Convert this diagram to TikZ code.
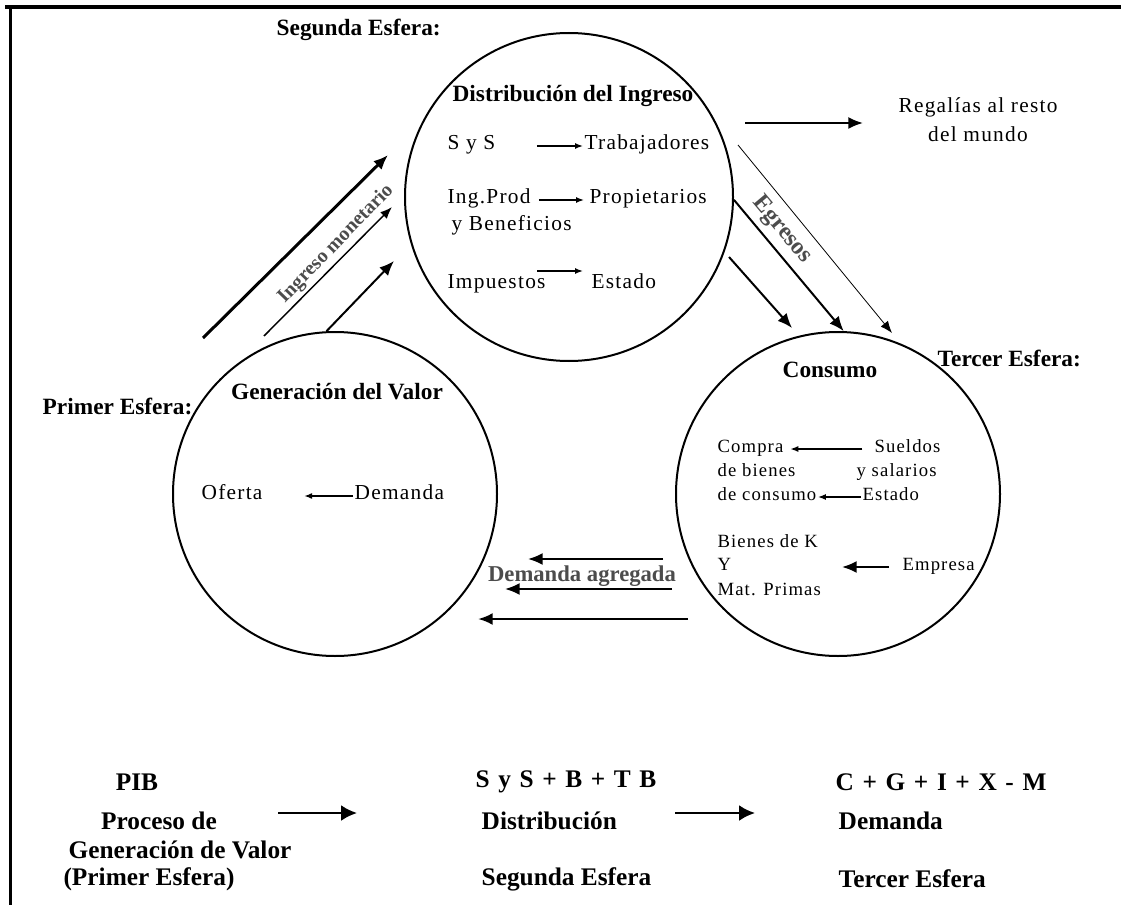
\documentclass[tikz,border=0pt]{standalone}
\usepackage{fontspec}
\setmainfont{Liberation Serif}
\newfontfamily\spaced[LetterSpace=6]{Liberation Serif}
\newfontfamily\wide[LetterSpace=9]{Liberation Serif}
\usetikzlibrary{arrows.meta,shapes}

\tikzset{
  sphere/.style={circle,draw,line width=1.5pt,inner sep=0pt},
  title/.style={font=\fontsize{17.5}{19}\selectfont\bfseries},
  body/.style={font=\spaced\fontsize{16}{22}\selectfont,inner sep=1pt,
    text height=1.5ex,text depth=.3ex},
  small/.style={font=\spaced\fontsize{14}{16}\selectfont,inner sep=1pt,
    text height=1.5ex,text depth=.3ex},
  flow/.style={font=\fontsize{15}{17}\selectfont\bfseries,text=black!70},
  foot/.style={font=\fontsize{19}{21}\selectfont\bfseries},
  formula/.style={font=\wide\fontsize{19}{21}\selectfont\bfseries},
  heavy/.style={->,line width=2.25pt},
  mid/.style={->,line width=1.5pt},
  fine/.style={->,line width=.6pt,>={Latex[length=9pt,width=7pt]}},
  inner/.style={->,line width=1.1pt,>={Latex[length=6pt,width=4.5pt]}},
  sumarrow/.style={->,line width=1.8pt,>={Latex[length=12pt,width=12pt]}},
}

\begin{document}
\begin{tikzpicture}[x=0.75pt,y=-0.75pt,>={Latex[length=11pt,width=9pt]}]
  \useasboundingbox (0,0) rectangle (1121,913);

  % frame
  \draw[line width=3pt] (5,7) -- (1121,7);
  \draw[line width=2.25pt] (10,7) -- (10,905);

  % the three spheres
  \node[sphere,minimum size=246pt] (dist) at (569,197) {};
  \node[sphere,minimum size=243pt] (gen) at (335,494) {};
  \node[sphere,minimum size=243pt] (cons) at (838,494) {};

  \node[title] (distt) at (573,96) {Distribución del Ingreso};
  \node[title,anchor=west] (seg) at (272,30) {Segunda Esfera:};
  \node[title] (gent) at (337,392) {Generación del Valor};
  \node[title,anchor=west] (prim) at (38,406) {Primer Esfera:};
  \node[title] (const) at (830,370) {Consumo};
  \node[title,anchor=west] (terc) at (933,358) {Tercer Esfera:};

  % second sphere
  \node[body,anchor=west] (sys) at (446,146) {S y S};
  \node[body,anchor=west] (trab) at (583,146) {Trabajadores};
  \node[body,anchor=west] (ing) at (446,200) {Ing.Prod};
  \node[body,anchor=west] (prop) at (588,200) {Propietarios};
  \node[body,anchor=west] (ben) at (450,227) {y Beneficios};
  \node[body,anchor=west] (imp) at (446,285) {Impuestos};
  \node[body,anchor=west] (est) at (590,285) {Estado};
  \coordinate (impa) at (537,271);
  \coordinate (impb) at (583,271);

  \draw[inner,shorten <=30pt] (sys) -- (trab);
  \draw[inner,shorten <=5pt,shorten >=3pt] (ing) -- (prop);
  \draw[inner] (impa) -- (impb);

  % first sphere
  \node[body,anchor=west] (of) at (200,496) {Oferta};
  \node[body,anchor=west] (dem) at (353,496) {Demanda};
  \draw[inner,shorten >=30pt] (dem) -- (of);

  % third sphere
  \node[small,anchor=west] (comp) at (716,449) {Compra};
  \node[small,anchor=west] (bien) at (716,473) {de bienes};
  \node[small,anchor=west] (consu) at (716,497) {de consumo};
  \node[small,anchor=west] (sue) at (873,449) {Sueldos};
  \node[small,anchor=west] (sal) at (855,473) {y salarios};
  \node[small,anchor=west] (est2) at (861,497) {Estado};
  \node[small,anchor=west] (bk) at (716,544) {Bienes de K};
  \node[small,anchor=west] (yk) at (716,567) {Y};
  \node[small,anchor=west] (mat) at (716,592) {Mat. Primas};
  \node[small,anchor=west] (emp) at (901,567) {Empresa};
  \coordinate (empt) at (842,567);

  \draw[inner,shorten <=8pt,shorten >=4pt] (sue) -- (comp);
  \draw[inner] (est2) -- (consu);
  \draw[mid,shorten <=9pt] (emp) -- (empt);

  % royalties
  \node[body,align=center] (reg) at (978,138) {Regalías al resto\\del mundo};
  \coordinate (rega) at (745,123);
  \coordinate (regb) at (863,123);
  \draw[mid] (rega) -- (regb);

  % money income
  \coordinate (m1) at (203,338);
  \coordinate (m1t) at (388,155);
  \coordinate (m2) at (264,336);
  \coordinate (m2t) at (392,207);
  \coordinate (m3t) at (394,261);
  \draw[heavy] (m1) -- (m1t);
  \draw[fine,line width=1.1pt] (m2) -- (m2t);
  \draw[mid] (gen.93) -- (m3t);
  \node[flow,rotate=46] (ingm) at (336,244) {Ingreso monetario};

  % expenditure
  \coordinate (ea) at (729,257);
  \coordinate (eat) at (792,328);
  \coordinate (ec) at (738,145);
  \coordinate (ect) at (892,333);
  \draw[mid] (ea) -- (eat);
  \draw[mid] (dist.-1) -- (cons.88);
  \draw[fine] (ec) -- (ect);
  \node[flow,rotate=-50,font=\fontsize{18}{20}\selectfont\bfseries] (egr) at (782,230) {Egresos};

  % aggregate demand
  \coordinate (da1) at (663,559);
  \coordinate (da1t) at (528,559);
  \coordinate (da2) at (672,589);
  \coordinate (da2t) at (505,589);
  \coordinate (da3) at (688,619);
  \coordinate (da3t) at (478,619);
  \draw[mid] (da1) -- (da1t);
  \draw[mid] (da2) -- (da2t);
  \draw[mid,line width=1.9pt] (da3) -- (da3t);
  \node[flow,font=\fontsize{17}{19}\selectfont\bfseries] (dagr) at (582,576) {Demanda agregada};

  % summary
  \node[foot] (pib) at (137,782) {PIB};
  \node[foot] (proc) at (159,821) {Proceso de};
  \node[foot] (genv) at (180,850) {Generación de Valor};
  \node[foot] (prim2) at (149,879) {(Primer Esfera)};
  \node[formula,anchor=west] (sb) at (471,782) {S y S + B + T B};
  \node[foot,anchor=west] (distb) at (477,821) {Distribución};
  \node[foot,anchor=west] (segb) at (477,879) {Segunda Esfera};
  \node[formula,anchor=west] (cg) at (831,782) {C + G + I + X - M};
  \node[foot,anchor=west] (demb) at (834,821) {Demanda};
  \node[foot,anchor=west] (terb) at (834,879) {Tercer Esfera};
  \coordinate (f1a) at (278,813);
  \coordinate (f1b) at (357,813);
  \coordinate (f2a) at (675,813);
  \coordinate (f2b) at (755,813);
  \draw[sumarrow] (f1a) -- (f1b);
  \draw[sumarrow] (f2a) -- (f2b);

\end{tikzpicture}
\end{document}
